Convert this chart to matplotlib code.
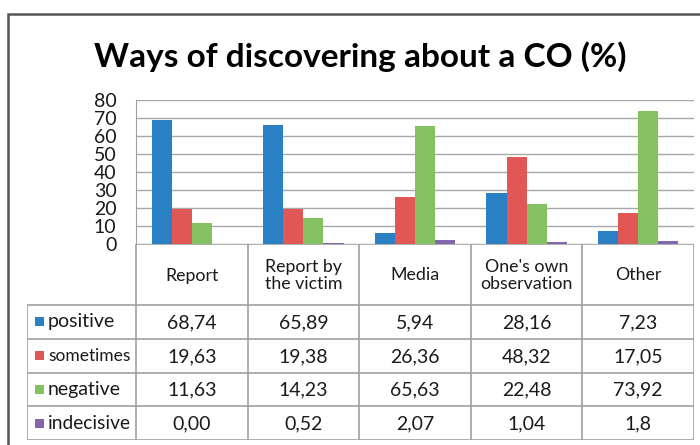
import matplotlib.pyplot as plt
from matplotlib.patches import Rectangle

plt.rcParams['font.family'] = ['Lato', 'DejaVu Sans']

# Categories (table header) and series
categories = ['Report', 'Report by\nthe victim', 'Media', "One's own\nobservation", 'Other']
series = ['positive', 'sometimes', 'negative', 'indecisive']
colors = ['#2a80c4', '#e05755', '#84c161', '#8466ad']

# Table cells as printed; bar heights come from these strings
positive_txt = ['68,74', '65,89', '5,94', '28,16', '7,23']
sometimes_txt = ['19,63', '19,38', '26,36', '48,32', '17,05']
negative_txt = ['11,63', '14,23', '65,63', '22,48', '73,92']
indecisive_txt = ['0,00', '0,52', '2,07', '1,04', '1,8']
table_txt = [positive_txt, sometimes_txt, negative_txt, indecisive_txt]

y_ticks = [0, 10, 20, 30, 40, 50, 60, 70, 80]


def to_float(s):
    return float(s.replace(',', '.'))


W, H = 700, 445
fig = plt.figure(figsize=(W / 100, H / 100), dpi=100)

grid_col = '#a8a8a8'
line_col = '#a0a0a0'
txt_col = '#1a1a1a'

# Bar area
left, right, top, zero = 136, 694, 100, 244
ax = fig.add_axes([left / W, 1 - zero / H, (right - left) / W, (zero - top) / H])
n = len(categories)
bw = 0.18
for k, (name, txt) in enumerate(zip(series, table_txt)):
    vals = [to_float(s) for s in txt]
    xs = [i + (k - 1.5) * bw for i in range(n)]
    ax.bar(xs, vals, width=bw, color=colors[k], zorder=3, linewidth=0)

ax.set_xlim(-0.5, n - 0.5)
ax.set_ylim(0, 80)
ax.set_yticks(y_ticks)
ax.set_yticklabels([str(t) for t in y_ticks], fontsize=14, color=txt_col)
ax.tick_params(axis='y', length=0, pad=14)
ax.set_xticks([])
ax.grid(axis='y', color=grid_col, linewidth=1, zorder=0)
for side in ['top', 'right', 'bottom']:
    ax.spines[side].set_visible(False)
ax.spines['left'].set_color(line_col)

# Data table below the bars
t_left, t_bottom = 27, 440
head_h = 61
row_h = (t_bottom - zero - head_h) / len(series)
unit = (right - left) / n
x0 = -0.5 - (left - t_left) / unit
tax = fig.add_axes([t_left / W, 1 - t_bottom / H, (right - t_left) / W, (t_bottom - zero) / H])
tax.set_xlim(x0, n - 0.5)
tax.set_ylim(t_bottom - zero, 0)
tax.axis('off')

lw = 1.2
# vertical lines
tax.plot([-0.5, -0.5], [0, t_bottom - zero], color=line_col, lw=lw)
for i in range(n):
    tax.plot([i + 0.5, i + 0.5], [0, t_bottom - zero], color=line_col, lw=lw)
tax.plot([x0, x0], [head_h, t_bottom - zero], color=line_col, lw=lw)
# horizontal lines
tax.plot([-0.5, n - 0.5], [0, 0], color=line_col, lw=lw)
for r in range(len(series) + 1):
    y = head_h + r * row_h
    tax.plot([x0, n - 0.5], [y, y], color=line_col, lw=lw)

for i, cat in enumerate(categories):
    tax.text(i, head_h / 2 + 1, cat, ha='center', va='center', fontsize=12.8,
             color=txt_col, linespacing=1.05)

sw = 9 / unit
label_sizes = {'positive': 14, 'sometimes': 12.5, 'negative': 14, 'indecisive': 13.8}
for r, (name, txt) in enumerate(zip(series, table_txt)):
    yc = head_h + (r + 0.5) * row_h
    tax.add_patch(Rectangle((x0 + 8 / unit, yc - 4.5), sw, 9, color=colors[r], lw=0))
    tax.text(x0 + 21 / unit, yc, name, ha='left', va='center',
             fontsize=label_sizes[name], color=txt_col)
    for i, s in enumerate(txt):
        tax.text(i, yc + 1, s, ha='center', va='center', fontsize=14, color=txt_col)

# Title
fig.text(0.515, 1 - 57 / H, 'Ways of discovering about a CO (%)', ha='center', va='center',
         fontsize=24, fontweight='bold', color='black')

# Outer chart frame
fig.add_artist(Rectangle((8 / W, -0.1), 1.2, 1 - 14 / H + 0.1, transform=fig.transFigure,
                         fill=False, edgecolor='#555555', lw=1.8))

fig.savefig('out.png', dpi=100, facecolor='white')
